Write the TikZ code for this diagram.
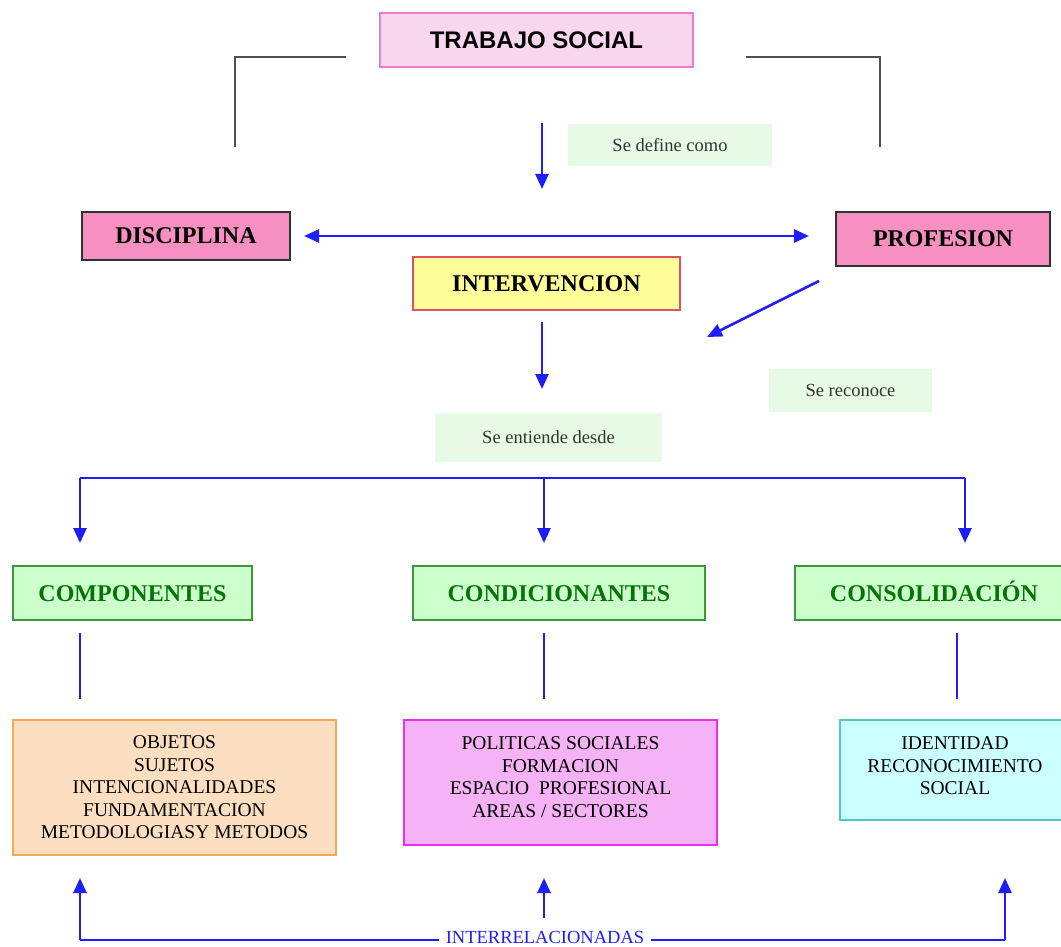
\documentclass[tikz,border=0pt]{standalone}
\usepackage{fontspec}
\setmainfont{Liberation Serif}
\newfontfamily\titlefont{Liberation Sans}
\usetikzlibrary{arrows.meta}

\definecolor{linkblue}{RGB}{30,30,245}
\definecolor{bracketgray}{RGB}{80,80,80}
\definecolor{titlefill}{RGB}{248,215,238}
\definecolor{titledraw}{RGB}{240,124,200}
\definecolor{rosefill}{RGB}{245,144,192}
\definecolor{rosedraw}{RGB}{50,50,50}
\definecolor{yellowfill}{RGB}{255,255,153}
\definecolor{yellowdraw}{RGB}{224,80,100}
\definecolor{notefill}{RGB}{230,250,230}
\definecolor{greenfill}{RGB}{204,255,204}
\definecolor{greendraw}{RGB}{60,150,60}
\definecolor{greentext}{RGB}{5,115,5}
\definecolor{peachfill}{RGB}{252,222,192}
\definecolor{peachdraw}{RGB}{245,168,90}
\definecolor{violetfill}{RGB}{245,178,245}
\definecolor{violetdraw}{RGB}{232,48,232}
\definecolor{cyanfill}{RGB}{204,255,255}
\definecolor{cyandraw}{RGB}{80,200,200}

\tikzset{
  box/.style={rectangle, line width=2pt, inner sep=0pt, align=center},
  titlebox/.style={box, draw=titledraw, fill=titlefill, font=\titlefont\fontsize{24}{28}\selectfont\bfseries},
  rosebox/.style={box, draw=rosedraw, fill=rosefill, font=\fontsize{24}{28}\selectfont\bfseries},
  yellowbox/.style={box, draw=yellowdraw, fill=yellowfill, font=\fontsize{24}{28}\selectfont\bfseries},
  greenbox/.style={box, draw=greendraw, fill=greenfill, text=greentext, text height=16pt, text depth=0pt,
    font=\fontsize{24}{28}\selectfont\bfseries},
  listbox/.style={box, font=\fontsize{19.5}{22.5}\selectfont},
  note/.style={rectangle, fill=notefill, inner sep=0pt, text=black!80, font=\fontsize{18.5}{22}\selectfont},
  arr/.style={-{Triangle[length=15pt,width=13pt]}, line width=2.6pt, draw=linkblue},
  link/.style={line width=2.6pt, draw=linkblue},
  bracket/.style={line width=2.2pt, draw=bracketgray}
}

\begin{document}
\begin{tikzpicture}[x=1pt, y=1pt]

    \useasboundingbox (0,0) rectangle (1061,-947);

    %% Top part
    % Title
    \node[titlebox, minimum width=313pt, minimum height=54pt] (trabajo) at (536.5,-40) {TRABAJO SOCIAL};

    % Gray brackets
    \coordinate (lfoot) at (235,-147);
    \coordinate (rfoot) at (880,-147);
    \draw[bracket] (trabajo.west) ++(-33,-17) -| (lfoot);
    \draw[bracket] (trabajo.east) ++(52,-17) -| (rfoot);

    % Se define como
    \node[note, minimum width=204pt, minimum height=42pt] (define) at (670,-145) {Se define como};
    \coordinate (defstart) at (542,-123);
    \coordinate (defend) at (542,-189);
    \draw[arr] (defstart) -- (defend);

    % Disciplina and profesion
    \node[rosebox, minimum width=208pt, minimum height=48pt] (disciplina) at (186,-236) {DISCIPLINA};
    \node[rosebox, minimum width=214pt, minimum height=54pt] (profesion) at (943,-239) {PROFESION};
    \draw[arr, {Triangle[length=15pt,width=13pt]}-{Triangle[length=15pt,width=13pt]}, shorten <=13pt, shorten >=26pt]
        (disciplina.east) -- (disciplina.east -| profesion.west);

    % Intervencion
    \node[yellowbox, minimum width=267pt, minimum height=53pt] (intervencion) at (546.5,-283.5) {INTERVENCION};

    % Se reconoce
    \node[note, minimum width=163pt, minimum height=43pt] (reconoce) at (850.5,-390.5) {Se reconoce};
    \coordinate (recend) at (707,-337);
    \draw[arr] ([xshift=-16pt,yshift=-14pt]profesion.south west) -- (recend);

    % Se entiende desde
    \node[note, minimum width=227pt, minimum height=49pt] (entiende) at (548.5,-437.5) {Se entiende desde};
    \coordinate (entstart) at (542,-322);
    \coordinate (entend) at (542,-389);
    \draw[arr] (entstart) -- (entend);

    %% Three branches
    \node[greenbox, minimum width=239pt, minimum height=54pt] (componentes) at (132.5,-593) {COMPONENTES};
    \node[greenbox, minimum width=292pt, minimum height=54pt] (condicionantes) at (559,-593) {CONDICIONANTES};
    \node[greenbox, minimum width=278pt, minimum height=54pt] (consolidacion) at (934,-593) {CONSOLIDACIÓN};

    % Bus line with down arrows
    \coordinate (busl) at (80,-478);
    \coordinate (busm) at (544,-478);
    \coordinate (busr) at (965,-478);
    \draw[link] (busl) -- (busr);
    \foreach \b in {busl,busm,busr}
        \draw[arr, shorten >=22pt] (\b) -- (\b |- componentes.north);

    % Lists
    \node[listbox, draw=peachdraw, fill=peachfill, minimum width=323pt, minimum height=135pt] (objetos) at (174.5,-787.5)
        {OBJETOS\\SUJETOS\\INTENCIONALIDADES\\FUNDAMENTACION\\METODOLOGIASY METODOS};
    \node[listbox, draw=violetdraw, fill=violetfill, minimum width=313pt, minimum height=125pt, text depth=11pt] (politicas) at (560.5,-782.5)
        {POLITICAS SOCIALES\\FORMACION\\ESPACIO\ \ PROFESIONAL\\AREAS / SECTORES};
    \node[listbox, draw=cyandraw, fill=cyanfill, minimum width=230pt, minimum height=100pt, text depth=8pt] (identidad) at (955,-770)
        {IDENTIDAD\\RECONOCIMIENTO\\SOCIAL};

    % Plain links down to the lists
    \draw[link, shorten <=12pt, shorten >=20pt] (busl |- componentes.south) -- (busl |- objetos.north);
    \draw[link, shorten <=12pt, shorten >=20pt] (busm |- condicionantes.south) -- (busm |- politicas.north);
    \coordinate (colr) at (957,-478);
    \draw[link, shorten <=12pt, shorten >=20pt] (colr |- consolidacion.south) -- (colr |- identidad.north);

    %% Bottom relation
    \node[text=linkblue, inner sep=7pt, font=\fontsize{18.5}{22}\selectfont] (interrel) at (545,-937.5) {INTERRELACIONADAS};
    \coordinate (lowl) at (80,-940);
    \coordinate (lowr) at (1005,-940);
    \draw[link] (lowl) -- (interrel.west |- lowl);
    \draw[link] (interrel.east |- lowr) -- (lowr);
    \draw[arr, shorten >=22pt] (lowl) -- (lowl |- objetos.south);
    \draw[arr, shorten >=57pt] (lowr) -- (lowr |- identidad.south);
    \draw[arr, shorten >=32pt] ([yshift=20pt]interrel.center -| busm) -- (busm |- politicas.south);

\end{tikzpicture}
\end{document}
